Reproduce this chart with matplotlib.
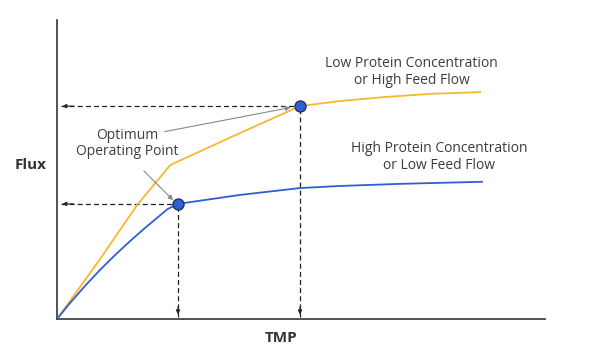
import numpy as np
import matplotlib
matplotlib.use('agg')
import matplotlib.pyplot as plt

plt.rcParams['font.family'] = ['Open Sans', 'DejaVu Sans']

# curves (TMP, Flux in arbitrary units)
high_tmp = [0, 0.27, 0.57, 0.88, 1.19, 1.50, 1.80, 2.07, 2.27, 2.48, 3.75, 4.98, 5.8, 7.03, 8.71]
high_flux = [0, 0.54, 1.10, 1.64, 2.14, 2.61, 3.04, 3.41, 3.68, 3.85, 4.15, 4.38, 4.45, 4.52, 4.59]
low_tmp = [0, 0.88, 1.64, 2.32, 3.75, 4.98, 5.8, 6.68, 7.64, 8.67]
low_flux = [0, 2.0, 3.81, 5.15, 6.22, 7.12, 7.29, 7.42, 7.53, 7.59]

opt_tmp = [2.48, 4.98]
opt_flux = [3.85, 7.12]

blue = '#2f5fd3'
orange = '#f7b733'
txt = '#3d3d3d'

fig = plt.figure(figsize=(6, 3.64), dpi=100)
ax = fig.add_axes([0.095, 0.1236, 0.8133, 0.8214])
ax.set_xlim(0, 10)
ax.set_ylim(0, 10)

# dashed guides to the axes
for x, y in zip(opt_tmp, opt_flux):
    ax.plot([0.08, x], [y, y], ls=(0, (4, 2.5)), color='#222222', lw=0.9, zorder=2)
    ax.plot([x, x], [0.08, y], ls=(0, (4, 2.5)), color='#222222', lw=0.9, zorder=2)
    ax.annotate('', xy=(0.05, y), xytext=(0.4, y),
                arrowprops=dict(arrowstyle='-|>', color='#222222', lw=0.8, mutation_scale=6))
    ax.annotate('', xy=(x, 0.06), xytext=(x, 0.5),
                arrowprops=dict(arrowstyle='-|>', color='#222222', lw=0.8, mutation_scale=6))

ax.plot(low_tmp, low_flux, color=orange, lw=1.3, zorder=3)
ax.plot(high_tmp, high_flux, color=blue, lw=1.3, zorder=3)
ax.plot(opt_tmp, opt_flux, 'o', ms=8, mfc=blue, mec='#1e2d55', mew=0.9, zorder=5)

ax.text(1.43, 5.88, 'Optimum\nOperating Point', ha='center', va='center',
        fontsize=10, color=txt, linespacing=1.1)
ax.annotate('', xy=(4.84, 7.09), xytext=(2.15, 6.25),
            arrowprops=dict(arrowstyle='-|>', color='#888888', lw=0.8, mutation_scale=7))
ax.annotate('', xy=(2.42, 3.91), xytext=(1.74, 5.02),
            arrowprops=dict(arrowstyle='-|>', color='#888888', lw=0.8, mutation_scale=7))

ax.text(7.27, 8.26, 'Low Protein Concentration\nor High Feed Flow', ha='center', va='center',
        fontsize=10, color=txt, linespacing=1.1)
ax.text(7.83, 5.42, 'High Protein Concentration\nor Low Feed Flow', ha='center', va='center',
        fontsize=10, color=txt, linespacing=1.1)

for s in ['top', 'right']:
    ax.spines[s].set_visible(False)
for s in ['left', 'bottom']:
    ax.spines[s].set_color('#333333')
    ax.spines[s].set_linewidth(1.2)
ax.set_xticks([])
ax.set_yticks([])

fig.text(31 / 600, 1 - 165 / 364, 'Flux', ha='center', va='center', fontsize=11,
         fontweight='bold', color='#333333')
fig.text(281 / 600, 1 - 338 / 364, 'TMP', ha='center', va='center', fontsize=11,
         fontweight='bold', color='#333333')

fig.savefig('out.png', dpi=100)
